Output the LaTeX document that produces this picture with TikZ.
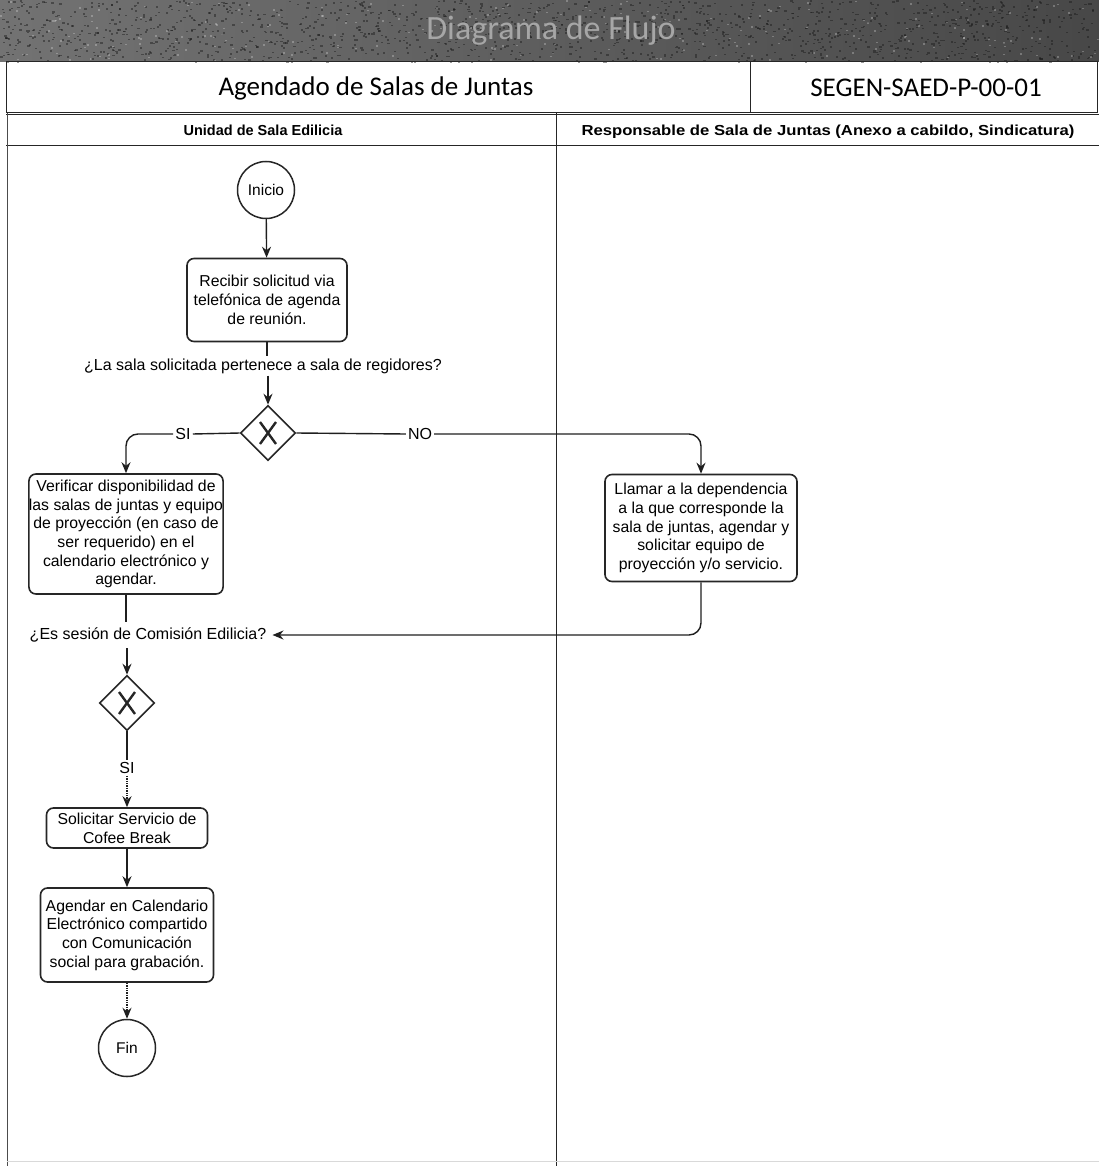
\documentclass[tikz,border=0pt]{standalone}
\usepackage{fontspec}
\setmainfont{Liberation Sans}
\newfontfamily\calfont{Carlito}
\usetikzlibrary{arrows.meta,shapes.geometric}

\begin{document}
\begin{tikzpicture}[x=1pt,y=-1pt,
  every node/.style={inner sep=0pt},
  flow/.style={line width=1.4pt, draw=black!88},
  arr/.style={flow, -{Stealth[length=11pt,width=9pt]}},
  task/.style={draw=black!85, line width=1.6pt, rounded corners=7pt, align=center,
    font=\fontsize{15.8}{18.7}\selectfont},
  ev/.style={circle, draw=black!85, line width=1.5pt, minimum size=57pt,
    font=\fontsize{15.5}{18}\selectfont},
  gate/.style={diamond, draw=black!85, line width=1.6pt, minimum width=55pt, minimum height=55pt,
    path picture={\draw[line width=2.4pt]
      ([shift={(-8pt,-11pt)}]path picture bounding box.center) -- ([shift={(8pt,11pt)}]path picture bounding box.center)
      ([shift={(-8pt,11pt)}]path picture bounding box.center) -- ([shift={(8pt,-11pt)}]path picture bounding box.center);}},
  lbl/.style={font=\fontsize{16}{19}\selectfont, inner sep=2pt},
  lanehead/.style={font=\bfseries\fontsize{14.5}{17}\selectfont, anchor=base},
  rule/.style={line width=1pt, draw=black!85},
]
\useasboundingbox (0,0) rectangle (1099,1166);

% title band with a grainy print texture
\shade[left color=black!55, right color=black!72] (0,0) rectangle (1099,62);
\pgfmathsetseed{11}
\foreach \i in {1,...,1500}{
  \fill[black!90, opacity=0.45] ({1099*rnd},{62*rnd}) rectangle ++(2.2,1.6);
}
\foreach \i in {1,...,250}{
  \fill[white, opacity=0.25] ({1099*rnd},{62*rnd}) rectangle ++(2,1.5);
}
\node[font=\calfont\fontsize{34}{36}\selectfont, text=black!35] (title) at (551,31) {Diagrama de Flujo};

% procedure name and code
\draw[rule] (6,62) rectangle (1097,113);
\draw[rule] (750,62) -- (750,113);
\node[font=\calfont\fontsize{27}{30}\selectfont] (proc) at (376,88) {Agendado de Salas de Juntas};
\node[font=\calfont\fontsize{27}{30}\selectfont] (code) at (926,88) {SEGEN-SAED-P-00-01};

% swimlanes
\draw[rule] (6,115) -- (1099,115);
\draw[rule] (6,146) -- (1099,146);
\draw[rule, draw=black!70] (7,113) -- (7,1166);
\draw[rule] (556,113) -- (556,1166);
\draw[line width=1pt, draw=black!15] (7,1161) -- (1099,1161);
\node[lanehead] (laneA) at (263,136) {Unidad de Sala Edilicia};
\node[lanehead] (laneB) at (828,136) {\scalebox{1.15}[1]{Responsable de Sala de Juntas (Anexo a cabildo, Sindicatura)}};

% flow
\node[ev] (inicio) at (266,190) {Inicio};
\node[task, minimum width=160pt, minimum height=83pt] (recibir) at (267,300)
  {Recibir solicitud via\\telefónica de agenda\\de reunión.};
\node[lbl] (q1) at (263,366) {¿La sala solicitada pertenece a sala de regidores?};
\node[gate] (g1) at (268,433) {};
\node[lbl] (si1) at (183,434) {SI};
\node[lbl] (no1) at (420,434) {NO};
\node[task, minimum width=186pt, minimum height=120pt] (verif) at (126,534)
  {Verificar disponibilidad de\\las salas de juntas y equipo\\de proyección (en caso de\\ser requerido) en el\\calendario electrónico y\\agendar.};
\node[task, minimum width=192pt, minimum height=107pt] (llamar) at (701,528)
  {Llamar a la dependencia\\a la que corresponde la\\sala de juntas, agendar y\\solicitar equipo de\\proyección y/o servicio.};
\node[lbl, inner sep=6pt] (q2) at (148,635) {¿Es sesión de Comisión Edilicia?};
\node[gate] (g2) at (127,703) {};
\node[lbl] (si2) at (127,768) {SI};
\node[task, minimum width=161pt, minimum height=40pt] (cofee) at (127,828)
  {Solicitar Servicio de\\Cofee Break};
\node[task, minimum width=173pt, minimum height=94pt] (agendar) at (127,935)
  {Agendar en Calendario\\Electrónico compartido\\con Comunicación\\social para grabación.};
\node[ev] (fin) at (127,1048) {Fin};

% connectors
\draw[arr] (inicio) -- (recibir);
\draw[flow] (recibir.south) -- (q1.north -| recibir.south);
\draw[arr] (q1.south -| g1.north) -- (g1.north);
\draw[flow] (g1.west) -- (si1.east);
\draw[arr, rounded corners=12pt] (si1.west) -| (verif.north);
\draw[flow] (g1.east) -- (no1.west);
\draw[arr, rounded corners=12pt] (no1.east) -| (llamar.north);
\draw[flow] (verif.south) -- (verif.south |- q2.north);
\draw[arr, rounded corners=12pt] (llamar.south) |- (q2.east);
\draw[arr] (q2.south -| g2.north) -- (g2.north);
\draw[flow] (g2.south) -- (si2.north);
\draw[arr, densely dotted] (si2.south) -- (cofee.north);
\draw[arr] (cofee) -- (agendar);
\draw[arr, densely dotted] (agendar) -- (fin);
\end{tikzpicture}
\end{document}
